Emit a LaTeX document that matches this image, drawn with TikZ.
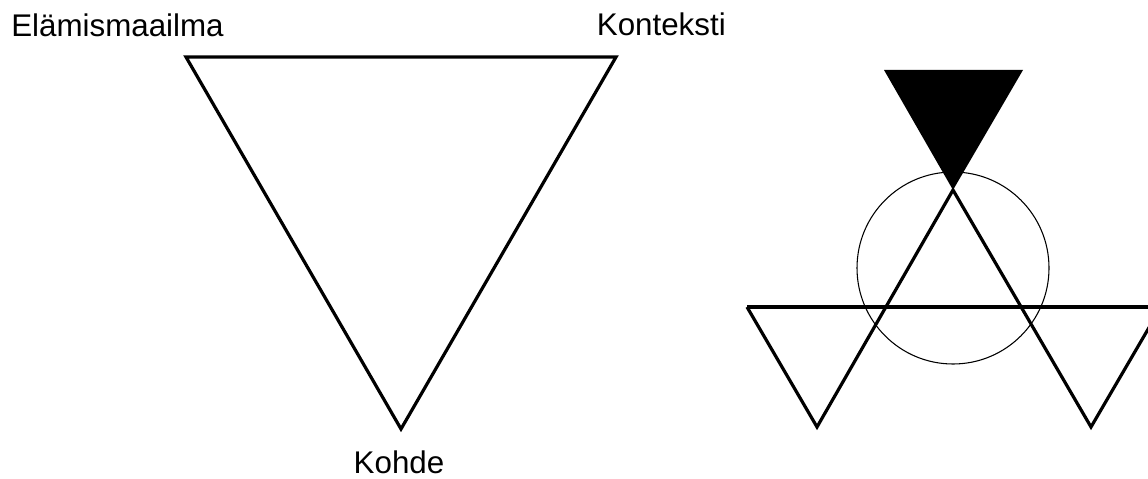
\documentclass[tikz,border=0pt]{standalone}
\usepackage{fontspec}
\setmainfont{Liberation Sans}
\begin{document}
\begin{tikzpicture}[x=0.75pt,y=-0.75pt,
  thickline/.style={line width=2.4pt,line join=miter},
  thinline/.style={line width=0.8pt},
  lbl/.style={font=\fontsize{23.5pt}{28pt}\selectfont,inner sep=0pt}]
\useasboundingbox (0,0) rectangle (1148,478);
% left triangle
\draw[thickline] (186,57) -- (616,57) -- (401,429) -- cycle;
\node[lbl,anchor=base west] (lw) at (11,37) {Elämismaailma};
\node[lbl,anchor=base east] (ctx) at (726,36) {Konteksti};
\node[lbl,anchor=base] (obj) at (399,473) {Kohde};
% right figure
\begin{scope}
\clip (0,0) rectangle (1148,478);
\fill (884,70) -- (1023,70) -- (953,190) -- cycle;
\draw[thinline] (953,268) circle (96);
\draw[thickline] (747,307) -- (1161,307);
\draw[thickline] (747,307) -- (817,427) -- (953,190) -- (1091,427) -- (1161,307);
\end{scope}
\end{tikzpicture}
\end{document}
